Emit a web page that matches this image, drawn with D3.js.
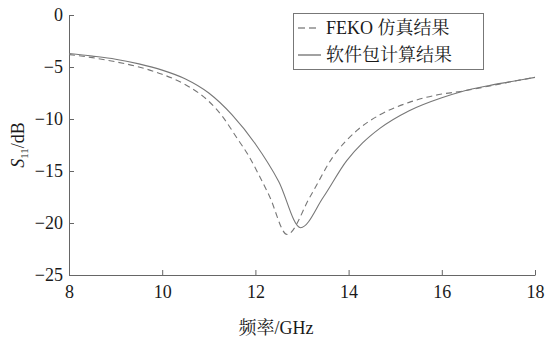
<!DOCTYPE html>
<html><head><meta charset="utf-8">
<script src="https://cdn.jsdelivr.net/npm/d3@7"></script>
<style>
body{margin:0;background:#fff;}
svg text{font-family:"Liberation Serif","Times New Roman","Noto Serif CJK SC","Noto Sans CJK SC",serif !important;fill:#1a1a1a;}
</style></head><body>
<svg id="c" width="545" height="338"></svg>
<script>
const feko_f = [8, 8.5, 9, 9.5, 10, 10.5, 11, 11.3, 11.6, 11.85, 12.1, 12.3, 12.68, 13.17, 13.67, 14.18, 14.67, 15.3, 16, 16.4, 17, 17.5, 18];
const feko_s = [-3.8, -4.1, -4.5, -5.0, -5.7, -6.7, -8.3, -9.8, -11.8, -13.5, -15.6, -17.4, -21.1, -17.5, -13.6, -11.1, -9.6, -8.4, -7.6, -7.35, -6.85, -6.4, -6.0];
const soft_f = [8, 8.5, 9, 9.5, 10, 10.5, 11, 11.5, 12, 12.5, 12.97, 13.46, 13.96, 14.3, 14.67, 15.3, 16, 16.4, 17, 17.5, 18];
const soft_s = [-3.7, -3.95, -4.25, -4.7, -5.3, -6.15, -7.5, -9.6, -12.4, -16.0, -20.45, -17.5, -14.0, -12.3, -10.9, -9.2, -7.95, -7.4, -6.8, -6.4, -6.0];
const xTicks = [8, 10, 12, 14, 16, 18];
const yTicks = [0, -5, -10, -15, -20, -25];
const legendLabels = ["FEKO 仿真结果", "软件包计算结果"];
const xTitle = "频率/GHz";

const svg = d3.select("#c");
const x = d3.scaleLinear().domain([8, 18]).range([69, 535]);
const y = d3.scaleLinear().domain([-25, 0]).range([275, 15]);
const axisColor = "#666";
const serif = "'Liberation Serif', 'Times New Roman', serif";

const gx = svg.append("g").attr("transform", "translate(0,275)")
  .call(d3.axisBottom(x).tickValues(xTicks).tickSizeInner(-5).tickSizeOuter(0).tickPadding(10).tickFormat(d3.format("d")));
const gy = svg.append("g").attr("transform", "translate(69,0)")
  .call(d3.axisLeft(y).tickValues(yTicks).tickSizeInner(-5).tickSizeOuter(0).tickPadding(8)
    .tickFormat(d => d < 0 ? "\u2212" + Math.abs(d) : d));
[gx, gy].forEach(g => {
  g.attr("font-family", serif).attr("font-size", 18);
  g.select(".domain").attr("stroke", axisColor).attr("stroke-width", 1);
  g.selectAll(".tick line").attr("stroke", axisColor);
  g.selectAll(".tick text").attr("font-size", 18).attr("fill", "#1a1a1a");
});
gx.selectAll(".tick text").attr("dy", "0.71em");
gy.selectAll(".tick text").attr("x", -6);

const line = d3.line().x(d => x(d[0])).y(d => y(d[1])).curve(d3.curveMonotoneX);
svg.append("path").datum(feko_f.map((f, i) => [f, feko_s[i]]))
  .attr("d", line).attr("fill", "none").attr("stroke", "#777").attr("stroke-width", 1.1)
  .attr("stroke-dasharray", "6,4");
svg.append("path").datum(soft_f.map((f, i) => [f, soft_s[i]]))
  .attr("d", line).attr("fill", "none").attr("stroke", "#777").attr("stroke-width", 1.1);

// legend
const lg = svg.append("g");
lg.append("rect").attr("x", 293.5).attr("y", 13.5).attr("width", 190).attr("height", 56)
  .attr("fill", "#fff").attr("stroke", "#777").attr("stroke-width", 1);
lg.append("line").attr("x1", 298).attr("x2", 320).attr("y1", 28).attr("y2", 28)
  .attr("stroke", "#555").attr("stroke-width", 1.1).attr("stroke-dasharray", "7,4");
lg.append("line").attr("x1", 298).attr("x2", 321).attr("y1", 55).attr("y2", 55)
  .attr("stroke", "#555").attr("stroke-width", 1.1);
lg.append("text").attr("x", 326).attr("y", 34).attr("font-size", 18).text(legendLabels[0]);
lg.append("text").attr("x", 326).attr("y", 61).attr("font-size", 18).text(legendLabels[1]);

// axis titles
svg.append("text").attr("x", 276).attr("y", 334).attr("text-anchor", "middle")
  .attr("font-size", 18).text(xTitle);
const yt = svg.append("text").attr("transform", "translate(24,145) rotate(-90)")
  .attr("text-anchor", "middle").attr("font-size", 18);
yt.append("tspan").attr("font-style", "italic").text("S");
yt.append("tspan").attr("font-size", 11).attr("dy", 4).text("11");
yt.append("tspan").attr("dy", -4).text("/dB");
</script></body></html>
